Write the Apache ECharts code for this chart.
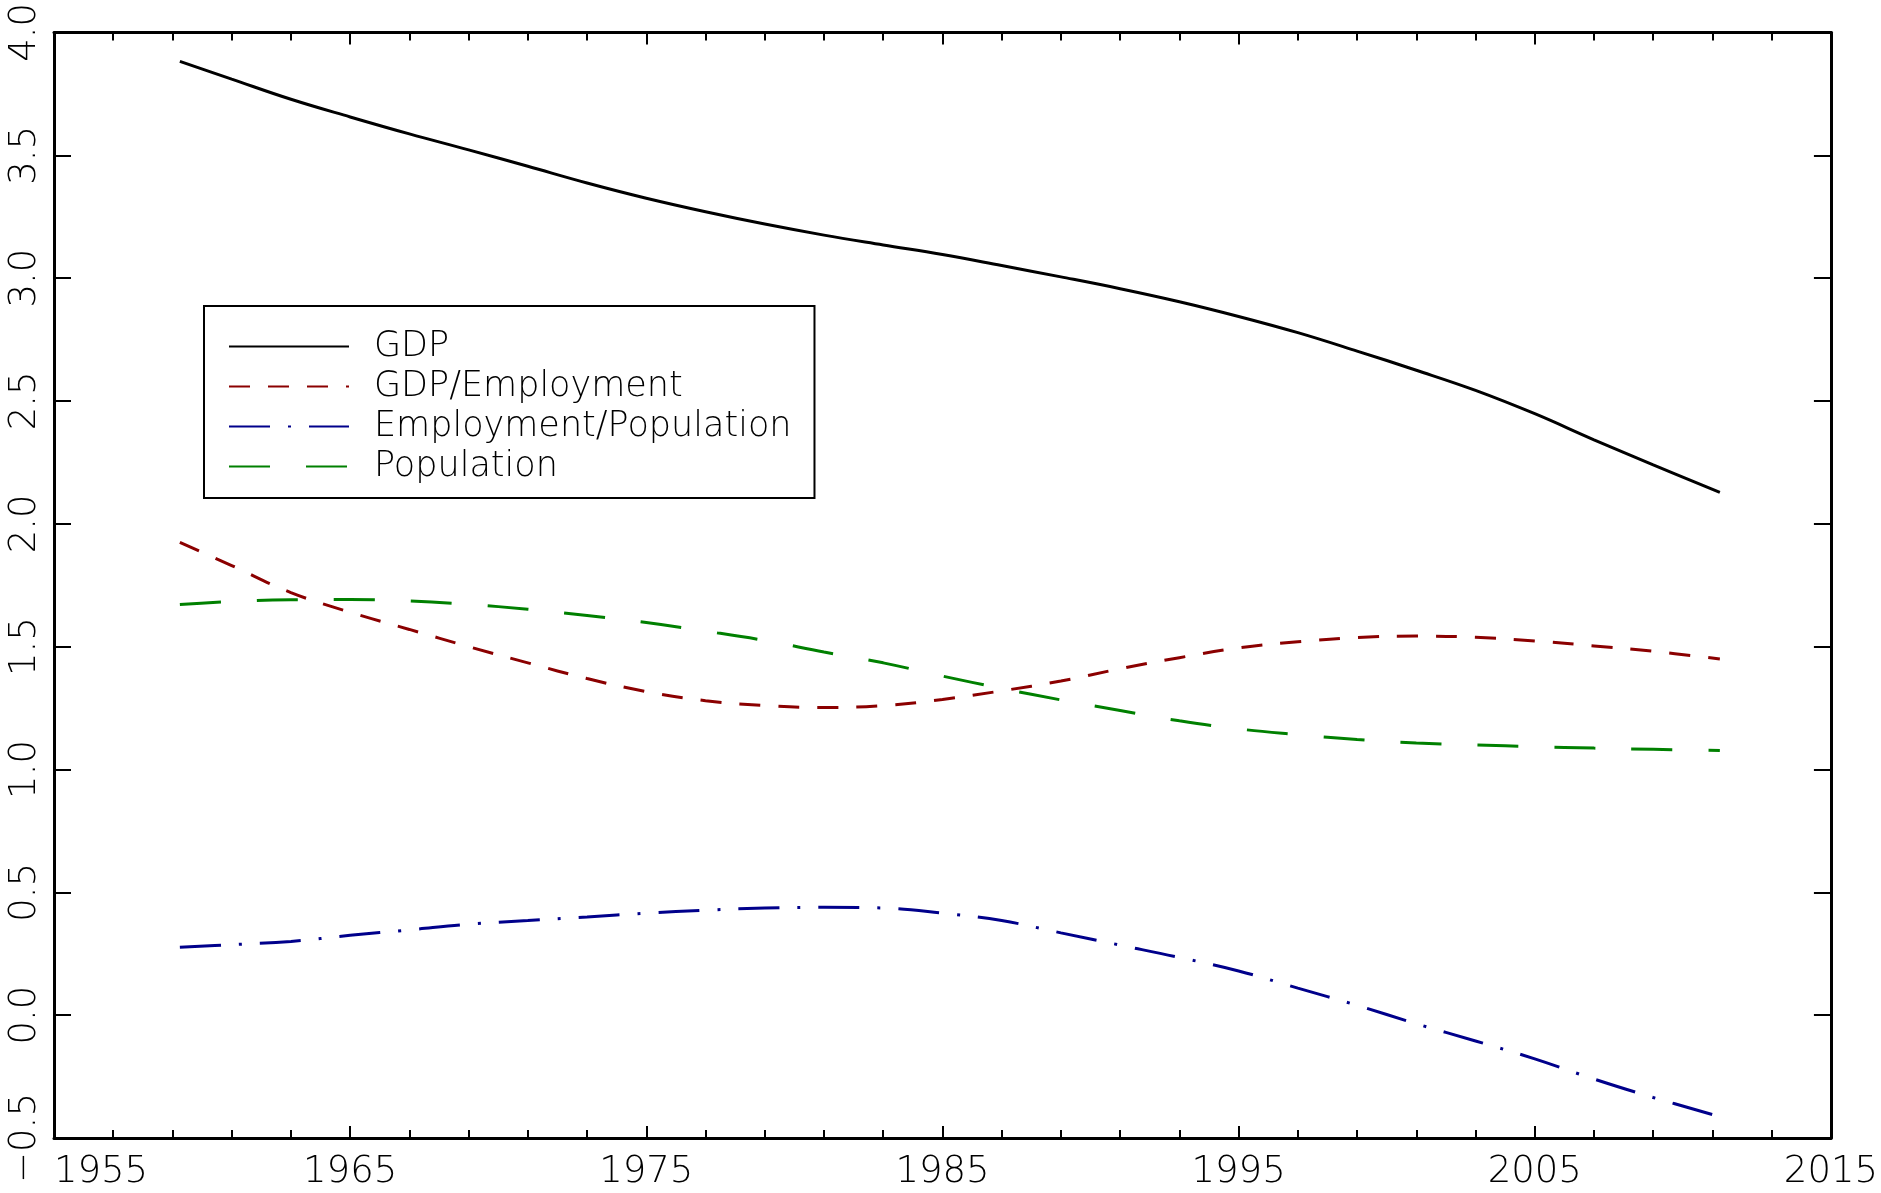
<!DOCTYPE html>
<html>
<head>
<meta charset="utf-8">
<script src="https://cdn.jsdelivr.net/npm/echarts@6/dist/echarts.min.js"></script>
<style>
html,body{margin:0;padding:0;background:#ffffff;}
#c{width:1881px;height:1193px;}
</style>
</head>
<body>
<div id="c"></div>
<script>
// ---- data ----
const years = [1959.25, 1961, 1963, 1965, 1967, 1969, 1971, 1973, 1975, 1977, 1979, 1981, 1983, 1985,
               1987, 1989, 1991, 1993, 1995, 1997, 1999, 2001, 2003, 2005, 2007, 2009, 2011.25];
const gdp = [3.882, 3.81, 3.728, 3.656, 3.587, 3.522, 3.455, 3.387, 3.325, 3.27, 3.22, 3.175, 3.135, 3.096,
             3.051, 3.005, 2.957, 2.904, 2.844, 2.778, 2.703, 2.625, 2.543, 2.448, 2.342, 2.24, 2.128];
const gdpPerEmployment = [1.924, 1.83, 1.72, 1.64, 1.57, 1.50, 1.434, 1.37, 1.317, 1.28, 1.26, 1.252, 1.26, 1.285,
             1.32, 1.36, 1.41, 1.455, 1.495, 1.52, 1.537, 1.543, 1.538, 1.523, 1.503, 1.481, 1.45];
const employmentPerPopulation = [0.276, 0.287, 0.30, 0.325, 0.347, 0.37, 0.385, 0.40, 0.415, 0.427, 0.436, 0.439, 0.436, 0.415,
             0.385, 0.335, 0.285, 0.235, 0.18, 0.11, 0.04, -0.035, -0.105, -0.178, -0.26, -0.335, -0.413];
const population = [1.671, 1.684, 1.691, 1.692, 1.686, 1.672, 1.652, 1.627, 1.598, 1.563, 1.525, 1.478, 1.434, 1.38,
             1.33, 1.283, 1.24, 1.198, 1.165, 1.142, 1.122, 1.108, 1.10, 1.093, 1.087, 1.082, 1.077];
const seriesNames = ['GDP', 'GDP/Employment', 'Employment/Population', 'Population'];
const xRange = [1955, 2015];
const yRange = [-0.5, 4.0];

// ---- chart ----
const FONT = 'DejaVu Sans';
const pairs = vals => years.map((y, i) => [y, vals[i]]);
const frame = {show: true, onZero: false, lineStyle: {color: '#000', width: 3}};

function xAxis(pos, labels) {
  return {
    type: 'value', position: pos, min: xRange[0], max: xRange[1], interval: 10,
    axisLine: frame, splitLine: {show: false},
    axisTick: {show: true, inside: true, length: 12, lineStyle: {color: '#000', width: 2}},
    minorTick: {show: true, splitNumber: 5, length: 8, lineStyle: {color: '#000', width: 2}},
    axisLabel: {show: labels, color: '#000', fontFamily: FONT, fontWeight: 200, fontSize: 37, margin: 16,
                alignMinLabel: 'left', formatter: v => String(v)}
  };
}
function yAxis(pos, labels) {
  return {
    type: 'value', position: pos, min: yRange[0], max: yRange[1], interval: 0.5,
    axisLine: frame, splitLine: {show: false},
    axisTick: {show: true, inside: true, length: 17, lineStyle: {color: '#000', width: 2}},
    axisLabel: {show: labels, rotate: 90, color: '#000', fontFamily: FONT, fontWeight: 200, fontSize: 37, margin: 10,
                formatter: v => v.toFixed(1).replace('-', '\u2212')}
  };
}

const styles = [
  {color: '#000000', type: 'solid'},
  {color: '#8b0000', type: [21, 18]},
  {color: '#00008b', type: [41, 18, 3, 18]},
  {color: '#008000', type: [41, 36]}
];
const values = [gdp, gdpPerEmployment, employmentPerPopulation, population];

const chart = echarts.init(document.getElementById('c'));
chart.setOption({
  animation: false,
  backgroundColor: '#ffffff',
  grid: {left: 54, top: 31, right: 50, bottom: 55, containLabel: false},
  xAxis: [xAxis('bottom', true), xAxis('top', false)],
  yAxis: [yAxis('left', true), yAxis('right', false)],
  legend: {
    left: 204, top: 306, orient: 'vertical', selectedMode: false,
    padding: [23, 23, 14, 24], borderColor: '#000', borderWidth: 2,
    itemWidth: 120, itemHeight: 14, itemGap: 5,
    itemStyle: {opacity: 0, borderWidth: 0},
    textStyle: {fontFamily: FONT, fontWeight: 200, fontSize: 35, lineHeight: 30, color: '#000', padding: [0, 0, 0, 20]},
    data: seriesNames
  },
  series: seriesNames.map((name, i) => ({
    name: name, type: 'line', data: pairs(values[i]),
    showSymbol: false, symbol: 'none', smooth: 0.4,
    color: styles[i].color,
    lineStyle: {color: styles[i].color, width: 3, type: styles[i].type, cap: 'butt'}
  }))
});
</script>
</body>
</html>
